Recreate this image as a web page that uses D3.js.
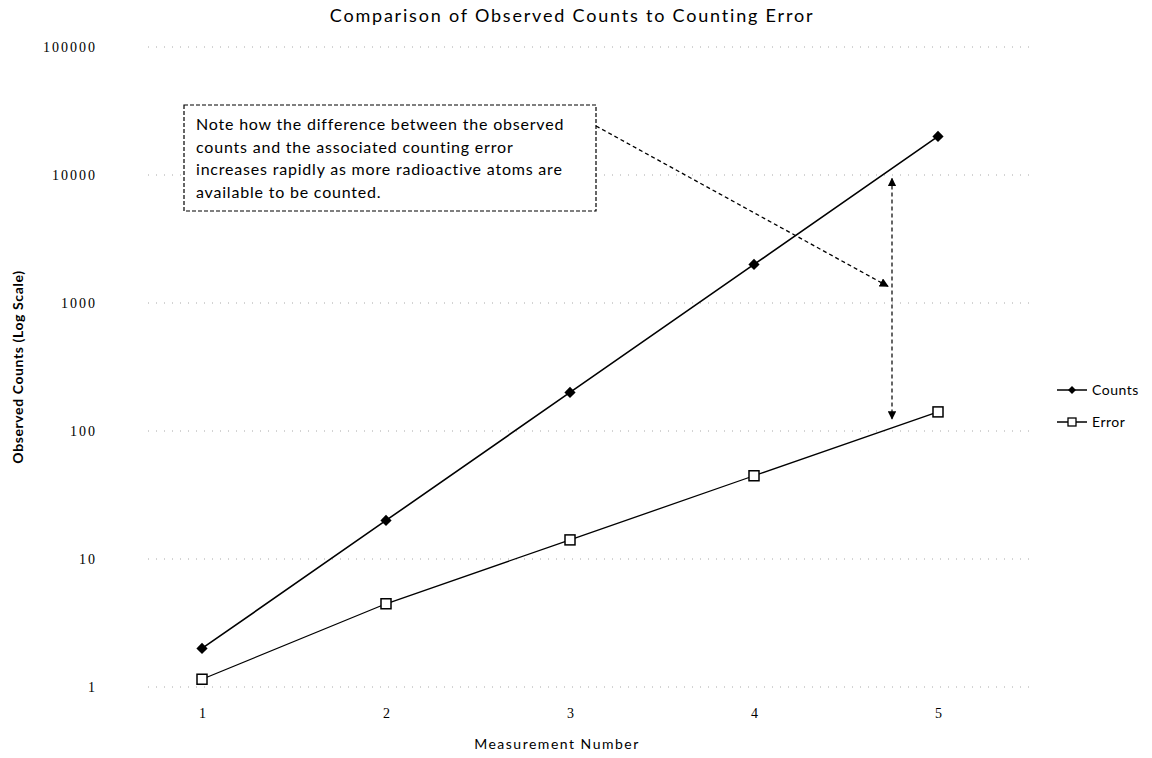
<!DOCTYPE html>
<html>
<head>
<meta charset="utf-8">
<script src="https://cdn.jsdelivr.net/npm/d3@7"></script>
<style>
	body { margin: 0; background: #fff; }
	svg { display: block; }
</style>
</head>
<body>
<div id="chart"></div>
<script>
// Data
const measurements = [1, 2, 3, 4, 5];
const counts = [2, 20, 200, 2000, 20000];
const errors = [1.15, 4.47, 14.1, 44.7, 141];
const yTicks = [1, 10, 100, 1000, 10000, 100000];
const noteLines = [
	"Note how the difference between the observed",
	"counts and the associated counting error",
	"increases rapidly  as more radioactive atoms are",
	"available to be counted."
];

const width = 1152, height = 758;
const sans = "Lato, 'Open Sans', sans-serif";
const serif = "'Liberation Serif', 'DejaVu Serif', serif";

const svg = d3.select("#chart").append("svg")
	.attr("width", width)
	.attr("height", height);

// scales
const x = d3.scaleLinear().domain([1, 5]).range([202, 938]);
const y = d3.scaleLog().domain([1, 100000]).range([687, 47]);

// title
svg.append("text")
	.attr("x", 572).attr("y", 22)
	.attr("text-anchor", "middle")
	.style("font-family", sans).style("font-size", "18px")
	.style("letter-spacing", "1.8px")
	.text("Comparison of Observed Counts to Counting Error");

// dotted gridlines
svg.append("g").selectAll("line")
	.data(yTicks)
	.join("line")
		.attr("x1", 148).attr("x2", 1030)
		.attr("y1", d => y(d)).attr("y2", d => y(d))
		.attr("stroke", "#a8a8a8")
		.attr("stroke-width", 1)
		.attr("stroke-dasharray", "1,7");

// y axis (labels only)
const yAxis = d3.axisLeft(y).tickValues(yTicks).tickFormat(d3.format("d")).tickSize(0).tickPadding(0);
svg.append("g")
	.attr("transform", "translate(97,0)")
	.call(yAxis)
	.call(g => g.select(".domain").remove())
	.selectAll("text")
		.attr("dy", "0.35em")
		.style("font-family", serif).style("font-size", "14px")
		.style("letter-spacing", "2px")
		.attr("fill", "#000");

// x axis (labels only)
const xAxis = d3.axisBottom(x).tickValues(measurements).tickFormat(d3.format("d")).tickSize(0).tickPadding(0);
svg.append("g")
	.attr("transform", "translate(0,708)")
	.call(xAxis)
	.call(g => g.select(".domain").remove())
	.selectAll("text")
		.style("font-family", serif).style("font-size", "14px").attr("fill", "#000");

// axis titles
svg.append("text")
	.attr("transform", "translate(23,367) rotate(-90)")
	.attr("text-anchor", "middle")
	.style("font-family", sans).style("font-size", "14px").style("font-weight", "bold")
	.style("letter-spacing", "0.6px")
	.text("Observed Counts (Log Scale)");

svg.append("text")
	.attr("x", 557).attr("y", 749)
	.attr("text-anchor", "middle")
	.style("font-family", sans).style("font-size", "14px")
	.style("letter-spacing", "1.5px")
	.text("Measurement Number");

// lines
const line = d3.line()
	.x((d, i) => x(measurements[i]))
	.y(d => y(d));

svg.append("path")
	.datum(counts)
	.attr("d", line)
	.attr("fill", "none").attr("stroke", "#000").attr("stroke-width", 1.6);

svg.append("path")
	.datum(errors)
	.attr("d", line)
	.attr("fill", "none").attr("stroke", "#000").attr("stroke-width", 1.3);

// markers
const diamond = d3.symbol().type(d3.symbolDiamond2).size(80);
svg.append("g").selectAll("path")
	.data(counts)
	.join("path")
		.attr("transform", (d, i) => `translate(${x(measurements[i])},${y(d)})`)
		.attr("d", diamond)
		.attr("fill", "#000");

svg.append("g").selectAll("rect")
	.data(errors)
	.join("rect")
		.attr("x", (d, i) => x(measurements[i]) - 5)
		.attr("y", d => y(d) - 5)
		.attr("width", 10).attr("height", 10)
		.attr("fill", "#fff").attr("stroke", "#000").attr("stroke-width", 1.5);

// legend
const legend = svg.append("g").attr("transform", "translate(1057,0)");
const legendItems = [{name: "Counts", y: 390}, {name: "Error", y: 422}];
legendItems.forEach((item, i) => {
	legend.append("line")
		.attr("x1", 0).attr("x2", 30)
		.attr("y1", item.y).attr("y2", item.y)
		.attr("stroke", "#000").attr("stroke-width", 1.5);
	if (i == 0) {
		legend.append("path")
			.attr("transform", `translate(15,${item.y})`)
			.attr("d", d3.symbol().type(d3.symbolDiamond2).size(40))
			.attr("fill", "#000");
	} else {
		legend.append("rect")
			.attr("x", 11).attr("y", item.y - 4)
			.attr("width", 8).attr("height", 8)
			.attr("fill", "#fff").attr("stroke", "#000").attr("stroke-width", 1.3);
	}
	legend.append("text")
		.attr("x", 35).attr("y", item.y)
		.attr("dy", "0.35em")
		.style("font-family", sans).style("font-size", "14px")
		.style("letter-spacing", "0.5px")
		.text(item.name);
});

// annotation box
svg.append("defs").append("marker")
	.attr("id", "arrow")
	.attr("viewBox", "0 0 10 10")
	.attr("refX", 9).attr("refY", 5)
	.attr("markerWidth", 7).attr("markerHeight", 7)
	.attr("orient", "auto-start-reverse")
	.append("path")
		.attr("d", "M0,0 L10,5 L0,10 z")
		.attr("fill", "#000");

svg.append("rect")
	.attr("x", 184).attr("y", 105)
	.attr("width", 412).attr("height", 106)
	.attr("fill", "#fff")
	.attr("stroke", "#000").attr("stroke-width", 1.2)
	.attr("stroke-dasharray", "4,2");

svg.append("g").selectAll("text")
	.data(noteLines)
	.join("text")
		.attr("x", 196)
		.attr("y", (d, i) => 130 + i * 22.5)
		.style("font-family", sans).style("font-size", "16px")
		.style("letter-spacing", "0.8px")
		.text(d => d);

// arrows pointing at the gap between the two series, near measurement 4.75
const xa = 4.75;
const logInterp = (arr) => Math.pow(10, Math.log10(arr[3]) + (xa - 4) * (Math.log10(arr[4]) - Math.log10(arr[3])));

svg.append("line")
	.attr("x1", 596).attr("y1", 126)
	.attr("x2", x(xa) - 4).attr("y2", y(1350))
	.attr("stroke", "#000").attr("stroke-width", 1.3)
	.attr("stroke-dasharray", "4,3")
	.attr("marker-end", "url(#arrow)");

svg.append("line")
	.attr("x1", x(xa)).attr("y1", y(logInterp(counts)) + 10)
	.attr("x2", x(xa)).attr("y2", y(logInterp(errors)) - 9)
	.attr("stroke", "#000").attr("stroke-width", 1.2)
	.attr("stroke-dasharray", "4,3")
	.attr("marker-start", "url(#arrow)")
	.attr("marker-end", "url(#arrow)");
</script>
</body>
</html>
